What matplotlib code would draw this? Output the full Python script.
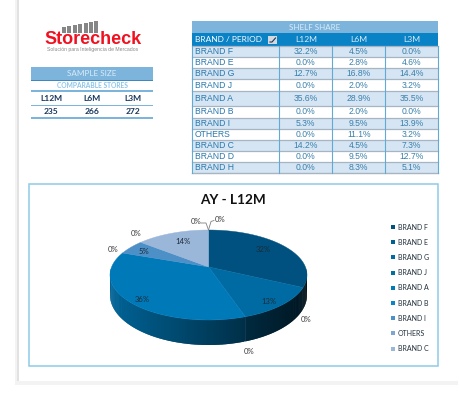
import numpy as np
import matplotlib
matplotlib.use('agg')
import matplotlib.pyplot as plt
from matplotlib.patches import Polygon, Rectangle

plt.rcParams['font.family'] = ['Lato', 'DejaVu Sans']

# table data
brands = ['BRAND F', 'BRAND E', 'BRAND G', 'BRAND J', 'BRAND A', 'BRAND B',
          'BRAND I', 'OTHERS', 'BRAND C', 'BRAND D', 'BRAND H']
l12m = [32.2, 0.0, 12.7, 0.0, 35.6, 0.0, 5.3, 0.0, 14.2, 0.0, 0.0]
l6m = [4.5, 2.8, 16.8, 2.0, 28.9, 2.0, 9.5, 11.1, 4.5, 9.5, 8.3]
l3m = [0.0, 4.6, 14.4, 3.2, 35.5, 0.0, 13.9, 3.2, 7.3, 12.7, 5.1]
periods = ['L12M', 'L6M', 'L3M']
sample_sizes = [235, 266, 272]

# pie and legend colours, legend stops at BRAND C like the original
slice_colors = ['#00517f', '#005f92', '#006ba3', '#00709f', '#0079b8', '#0a85c8',
                '#4d90c8', '#7fa5d2', '#9ab6d8', '#a8c2de', '#b8cde4']
legend_count = 9

# layout, pixels
row_edges = [45.7, 56.7, 67.7, 79.3, 91, 105.7, 118.3, 129.3, 140, 151, 161.7, 172.7]
col_edges = [192, 279.3, 332.3, 385.3, 438]
label_pos = [(263, 250), (306, 320), (269, 302), (249, 351), (142, 299), (113, 250),
             (144, 252), (136, 234), (183, 241), (196, 221), (220, 219)]
ARIAL = ['Liberation Sans', 'DejaVu Sans']

fig = plt.figure(figsize=(4.6, 3.96), dpi=100)
ax = fig.add_axes([0, 0, 1, 1])
ax.set_xlim(0, 460)
ax.set_ylim(396, 0)
ax.axis('off')


def rect(x0, y0, x1, y1, color, z=1, **kw):
    ax.add_patch(Rectangle((x0, y0), x1 - x0, y1 - y0, facecolor=color, edgecolor='none', zorder=z, **kw))


def label(x, y, s, size=6, color='#1f5f8f', ha='center', z=6, **kw):
    ax.text(x, y, s, fontsize=size, color=color, ha=ha, va='center', zorder=z, **kw)


# page shadow
rect(15, 0, 19, 381, '#f3f3f3')
rect(17, 0, 19, 381, '#e2e2e2')
rect(15, 381, 458, 385, '#f3f3f3')

# logo
bar_heights = [6, 7, 8, 9, 10, 11, 12.5]
for i, h in enumerate(bar_heights):
    rect(62 + i * 5.4, 33 - h, 66 + i * 5.4, 33, '#868686')
label(93, 40, 'Storecheck', size=13, color='#f01020', fontweight='bold', family=ARIAL)
label(93, 50, 'Solución para Inteligencia de Mercados', size=3.7, color='#8a8a8a', family=ARIAL)

# sample size table
rect(31, 67, 153, 80, '#7db4dc')
rect(31, 79.5, 153, 80.5, '#3f87bd')
label(92, 74, 'SAMPLE SIZE', size=5.9, color='#d9ebf7')
label(92, 86, 'COMPARABLE STORES', size=4.8, color='#8cc4e8', fontweight='bold')
rect(31, 90, 153, 92, '#7db4dc')
rect(31, 104.5, 153, 105.7, '#7db4dc')
rect(31, 117.2, 153, 118.8, '#7db4dc')
for x, p, n in zip([51, 92, 133], periods, sample_sizes):
    label(x, 98.5, p, size=6.1, color='#17365d', fontweight='bold')
    label(x, 112, str(n), size=6.1, color='#17365d', fontweight='bold')

# shelf share table
rect(192, 21, 438, 33, '#7db4dc')
label(315, 27.5, 'SHELF SHARE', size=5.8, color='#d9ebf7')
rect(192, 33, 438, 45.7, '#0a82c6')
label(195, 40, 'BRAND / PERIOD', size=6, color='white', ha='left')
rect(268, 36, 277, 44, '#d5d9de', z=3)
ax.plot([270, 272, 275.5], [42, 42, 38], color='#17365d', lw=0.8, zorder=4)
for i, p in enumerate(periods):
    label((col_edges[i + 1] + col_edges[i + 2]) / 2, 40, p, size=6.1, color='#dcecf7')

for i, b in enumerate(brands):
    y0, y1 = row_edges[i], row_edges[i + 1]
    ym = (y0 + y1) / 2
    if i % 2 == 0:
        rect(192, y0, 438, y1, '#d5e5f3')
    ax.plot([192, 438], [y0, y0], color='#a7b5c2', lw=0.9, zorder=2)
    label(195, ym, b, size=6.2, color='#2a78ad', ha='left', family=ARIAL)
    for j, vals in enumerate([l12m, l6m, l3m]):
        label((col_edges[j + 1] + col_edges[j + 2]) / 2, ym, f'{vals[i]:.1f}%', size=6.2,
              color='#3b80ab', family=ARIAL)
ax.plot([192, 438], [row_edges[-1], row_edges[-1]], color='#a7b5c2', lw=1.0, zorder=2)
for x in col_edges:
    ax.plot([x, x], [row_edges[0], row_edges[-1]], color='#62aad6', lw=0.8, zorder=3)

# chart frame
ax.add_patch(Rectangle((29.5, 184), 408.5, 182, facecolor='white', edgecolor='#8ecbe8', lw=1.1, zorder=1))
label(233, 200.5, 'AY - L12M', size=9.8, color='#111111', fontweight='bold')

# 3d pie, perspective maps the unit circle onto the ellipse with the apex moved up
cx, cy, a, b = 208.5, 275, 98.5, 45
k = -0.18


def project(theta):
    u, v = np.sin(theta), -np.cos(theta)
    den = 1 + k * v
    return cx + a * u * np.sqrt(1 - k ** 2) / den, cy + b * (v + k) / den


apex = (cx, cy + b * k)
ends = np.cumsum(l12m) / np.sum(l12m) * 2 * np.pi
starts = np.concatenate([[0], ends[:-1]])


def shade(color, f):
    rgb = np.array(matplotlib.colors.to_rgb(color))
    return tuple(rgb * f)


# side wall first, each strip runs into the next so no seams show
for s, e, c in zip(starts, ends, slice_colors):
    if e <= s:
        continue
    n = max(3, int((e - s) / 0.012))
    t = np.linspace(s, e, n)
    xs, ys = project(t)
    for i in range(n - 1):
        if (ys[i] + ys[i + 1]) / 2 < cy - 6:
            continue
        j = min(i + 2, n - 1)
        d0 = 20 + 5 * (ys[i] - cy) / b
        d1 = 20 + 5 * (ys[j] - cy) / b
        f = 0.82 - 0.62 * ((xs[i] - cx + a) / (2 * a))
        ax.add_patch(Polygon([(xs[i], ys[i]), (xs[j], ys[j]),
                              (xs[j], ys[j] + d1), (xs[i], ys[i] + d0)],
                             facecolor=shade(c, f), edgecolor='none', zorder=3))

# top face
for s, e, c in zip(starts, ends, slice_colors):
    if e <= s:
        continue
    t = np.linspace(s, e, 80)
    xs, ys = project(t)
    ax.add_patch(Polygon([apex] + list(zip(xs, ys)), facecolor=c, edgecolor=c, lw=0.3, zorder=4))

for v, (x, y) in zip(l12m, label_pos):
    label(x, y, f'{v:.0f}%', size=5.6, color='#1c2b38' if v > 0 else '#3a3a3a')

# leader lines for the two top labels
top = project(0.0)
ax.plot([201, 206, top[0]], [223, 223, top[1]], color='#808080', lw=0.6, zorder=5)
ax.plot([214, 211, top[0]], [220.5, 221.5, top[1]], color='#808080', lw=0.6, zorder=5)

# legend
for i in range(legend_count):
    y = 227 + i * 15.2
    rect(391.5, y - 2, 395.5, y + 2, slice_colors[i], z=5)
    label(398, y, brands[i], size=5, color='#22303c', ha='left')

fig.savefig('out.png', dpi=100)
